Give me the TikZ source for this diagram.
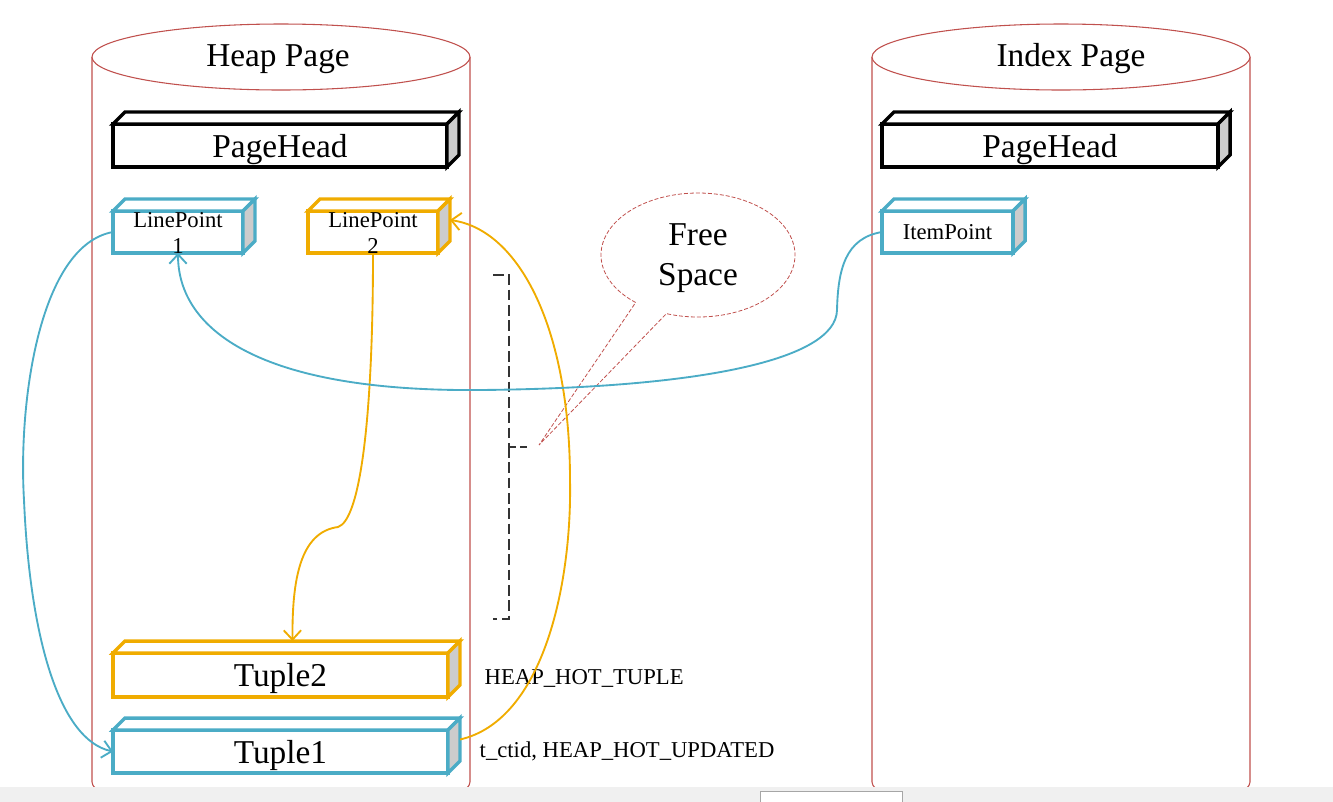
\documentclass[tikz,border=0pt]{standalone}
\usepackage{fontspec}
\setmainfont{Liberation Serif}
\usetikzlibrary{positioning, arrows.meta, calc}
\definecolor{accB}{RGB}{75,172,198}
\definecolor{accO}{RGB}{240,172,0}
\definecolor{accR}{RGB}{192,80,77}
\colorlet{side}{black!20}
\colorlet{bar}{black!6}
\tikzset{
  slab/.style  ={draw, line width=2.6pt, fill=white, inner sep=0pt,
                 outer sep=0pt, line join=miter, text depth=0pt},
  slabK/.style ={slab, draw=black, minimum height=32.25pt,
                 font=\fontsize{25}{30}\selectfont},
  slabB/.style ={slab, draw=accB, minimum height=31.5pt},
  slabO/.style ={slab, draw=accO, minimum height=31.5pt},
  big/.style   ={font=\fontsize{25}{30}\selectfont, align=center},
  small/.style ={font=\fontsize{17}{20}\selectfont, align=center},
  cyl/.style   ={accR, line width=0.8pt},
  bubble/.style={accR, line width=0.6pt, dash pattern=on 3pt off 1.5pt},
  gap/.style   ={black!80, line width=1pt, dash pattern=on 8pt off 3.5pt},
  ptrB/.style  ={accB, line width=1.4pt,
                 -{Straight Barb[length=7pt, width=13pt]}},
  ptrO/.style  ={accO, line width=1.4pt,
                 -{Straight Barb[length=7pt, width=13pt]}},
}
\newcommand{\slabdepth}[2]{%
  \draw[draw=#2, line width=2.6pt, line join=miter, fill=white]
    (#1.north west) -- ++(12,-12) -- ($(#1.north east)+(12,-12)$)
    -- (#1.north east) -- cycle;
  \draw[draw=#2, line width=2.6pt, line join=miter, fill=side]
    (#1.north east) -- ++(12,-12) -- ($(#1.south east)+(12,-12)$)
    -- (#1.south east) -- cycle;
}

\begin{document}
\begin{tikzpicture}[x=0.75pt, y=-0.75pt]
\useasboundingbox (0,0) rectangle (1333,801);

% page cylinders
\foreach \cx in {281, 1061} {
  \draw[cyl] (\cx-189,57) -- (\cx-189,782)
    arc[start angle=180, end angle=0, x radius=189, y radius=33]
    -- (\cx+189,57);
  \draw[cyl, fill=white] (\cx,57) ellipse[x radius=189, y radius=33];
}
\node[big] (heap)  at (278,59)  {Heap Page};
\node[big] (index) at (1071,59) {Index Page};

% heap page contents
\node[slabK, minimum width=250.5pt] (HH) at (280,145.5) {PageHead};
\node[slabB, minimum width=97.5pt]  (LP1) at (178,232) {};
\node[slabO, minimum width=97.5pt]  (LP2) at (373,232) {};
\node[slabO, minimum width=251.25pt, minimum height=33pt,
      font=\fontsize{25}{30}\selectfont] (T2) at (280.5,675) {Tuple2};
\node[slabB, minimum width=251.25pt, minimum height=32.25pt,
      font=\fontsize{25}{30}\selectfont] (T1) at (280.5,751.5) {Tuple1};

% index page contents
\node[slabK, minimum width=252pt] (IH) at (1050,145.5) {PageHead};
\node[slabB, minimum width=98.25pt, font=\fontsize{17}{20}\selectfont]
  (IP) at (947.5,232) {ItemPoint};

\foreach \n/\c in {HH/black, LP1/accB, LP2/accO, T2/accO, T1/accB,
                   IH/black, IP/accB} {
  \slabdepth{\n}{\c}
}

\node[small] (LP1t) at (178,233) {LinePoint\\1};
\node[small] (LP2t) at (373,233) {LinePoint\\2};

% flags
\node[small, anchor=west] (hot) at (480,678) {HEAP\_HOT\_TUPLE};
\node[small, anchor=west] (upd) at (475,751) {t\_ctid, HEAP\_HOT\_UPDATED};

% free space marker
\draw[gap] (493,275) -- (509,275) -- (509,447) -- (527,447);
\draw[gap] (509,447) -- (509,619) -- (493,619);

% free space callout
\node[big] (free) at (698,258) {Free\\Space};
\coordinate (tip) at (539,445);
\draw[bubble] (698,255) ++(130:97 and 62)
  arc[start angle=130, end angle=469, x radius=97, y radius=62]
  -- (tip) -- cycle;

% pointers
\coordinate (t2top)  at ($(T2.north)+(12,-12)$);
\coordinate (t1side) at ($(T1.east)+(12,-12)$);
\coordinate (lp2side) at ($(LP2.east)+(12,-12)$);
\draw[ptrB] (LP1.west) .. controls (40,245) and (18,400) .. (24,500)
  .. controls (30,640) and (60,740) .. (T1.west);
\draw[ptrO] (LP2.south) .. controls (373,420) and (360,520) .. (338,527)
  .. controls (300,532) and (292,580) .. (t2top);
\draw[ptrO] (t1side) .. controls (545,720) and (572,580) .. (570,480)
  .. controls (570,330) and (520,230) .. (lp2side);
\draw[ptrB] (IP.west) .. controls (845,238) and (838,270) .. (837,310)
  .. controls (836,360) and (700,388) .. (480,390)
  .. controls (260,392) and (178,330) .. (LP1.south);

% viewer strip
\fill[bar] (0,787) rectangle (1333,820);
\filldraw[fill=white, draw=black!35] (760,791) rectangle (902,820);
\end{tikzpicture}
\end{document}
